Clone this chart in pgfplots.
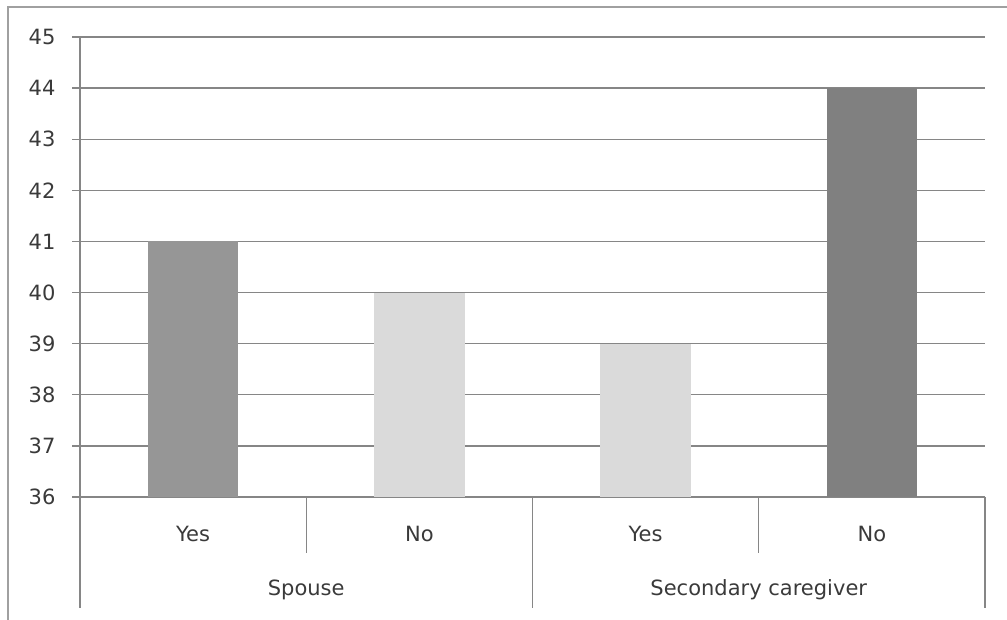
\documentclass[border=0pt]{standalone}
\usepackage{pgfplots}
\pgfplotsset{compat=1.18}
\usepackage{fontspec}
\setmainfont{DejaVu Sans}
\definecolor{gridgray}{HTML}{868686}
\definecolor{framegray}{HTML}{A0A0A0}
\definecolor{barA}{HTML}{969696}
\definecolor{barB}{HTML}{DADADA}
\definecolor{barC}{HTML}{808080}
\definecolor{txt}{HTML}{3A3A3A}
\begin{document}
\begin{tikzpicture}[x=1pt,y=1pt]
\path[use as bounding box] (0,0) rectangle (1007,620);
% chart frame
\draw[framegray, line width=1.2pt] (8,0) -- (8,613) -- (1007,613);
\begin{axis}[
  at={(80pt,123pt)}, anchor=south west,
  scale only axis, width=905pt, height=460pt,
  xmin=0, xmax=4, ymin=36, ymax=45,
  ytick={36,...,45},
  xtick={0.5,1.5,2.5,3.5},
  xticklabels={Yes,No,Yes,No},
  axis line style={draw=none},
  ymajorgrids, grid style={gridgray, line width=1.4pt},
  tick align=outside,
  ytick pos=left,
  major tick length=8pt,
  ytick style={gridgray, line width=1.4pt},
  xtick style={draw=none},
  ybar, bar width=0.4, bar shift=0pt,
  /pgf/number format/assume math mode=true,
  tick label style={font=\fontsize{21}{24}\selectfont, text=txt},
  yticklabel style={xshift=-13pt},
  xticklabel style={yshift=-18pt},
  clip=false,
]
\addplot[fill=barA, draw=none] coordinates {(0.5,41)};
\addplot[fill=barB, draw=none] coordinates {(1.5,40)};
\addplot[fill=barB, draw=none] coordinates {(2.5,39)};
\addplot[fill=barC, draw=none] coordinates {(3.5,44)};
% value axis and category dividers
\draw[gridgray, line width=1.4pt] (axis cs:0,45) -- (axis cs:0,36) -- ++(0pt,-111pt);
\draw[gridgray, line width=1.4pt] (axis cs:1,36) -- ++(0pt,-56pt);
\draw[gridgray, line width=1.4pt] (axis cs:3,36) -- ++(0pt,-56pt);
\draw[gridgray, line width=1.4pt] (axis cs:2,36) -- ++(0pt,-111pt);
\draw[gridgray, line width=1.4pt] (axis cs:4,36) -- ++(0pt,-111pt);
\node[font=\fontsize{21}{24}\selectfont, text=txt] at ([yshift=-93pt]axis cs:1,36) {Spouse};
\node[font=\fontsize{21}{24}\selectfont, text=txt] at ([yshift=-93pt]axis cs:3,36) {Secondary caregiver};
\end{axis}
\end{tikzpicture}
\end{document}
